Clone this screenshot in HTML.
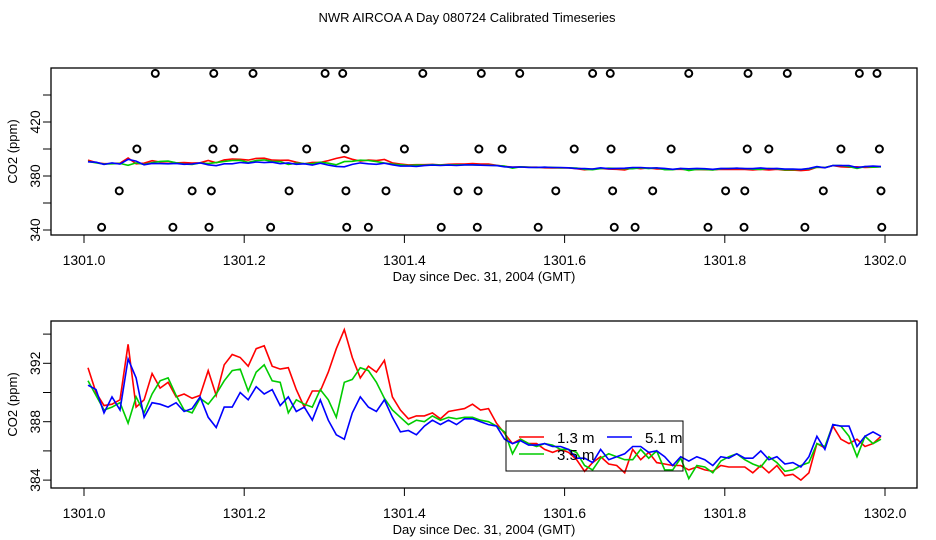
<!DOCTYPE html>
<html><head><meta charset="utf-8"><style>
body{margin:0;background:#fff;}
svg{display:block;font-family:"Liberation Sans",sans-serif;}
</style></head><body>
<svg id="chart" width="936" height="540" viewBox="0 0 936 540">
<text x="467" y="22" text-anchor="middle" font-size="13">NWR AIRCOA A  Day 080724  Calibrated Timeseries</text>
</svg>
<script>
const redVals=[391.7,390.0,389.1,389.2,389.5,393.3,389.0,389.5,391.3,390.3,390.7,389.7,389.9,389.6,389.8,391.5,389.8,391.9,392.6,392.4,391.8,393.0,393.2,391.8,391.6,391.7,390.2,389.0,390.1,390.1,391.4,393.0,394.3,392.4,391.0,391.8,391.4,392.2,389.7,388.8,388.2,388.4,
388.4,388.6,388.2,388.7,388.8,388.9,389.2,388.8,388.9,387.9,387.2,386.5,386.8,386.5,386.5,386.1,385.9,386.1,385.9,385.4,384.6,385.2,385.6,385.1,385.0,384.5,386.1,385.4,385.9,385.2,385.1,385.0,385.0,384.7,384.9,384.7,384.6,385.0,384.9,384.9,384.9,384.5,385.0,384.5,385.0,384.3,384.4,384.0,384.5,386.5,386.2,387.7,386.8,386.5,386.8,386.3,386.5,387.0];
const greenVals=[390.8,389.8,388.8,389.0,389.3,387.9,389.7,388.6,389.9,390.8,391.0,389.8,388.8,388.6,389.6,389.2,389.9,390.8,391.5,391.6,390.1,391.4,391.9,390.8,390.7,388.6,389.5,389.2,389.0,390.2,389.5,388.3,390.7,390.9,391.7,391.5,390.7,389.6,388.8,388.3,387.8,388.1,
388.0,388.4,388.1,388.3,388.2,388.3,388.3,388.1,388.0,387.7,387.3,385.8,386.8,386.5,386.3,386.5,386.4,386.1,386.1,385.9,385.0,384.7,385.5,385.8,385.6,385.4,385.4,386.1,385.5,386.0,384.7,384.7,385.5,384.1,385.0,384.9,384.5,385.3,385.6,385.8,385.4,385.1,384.9,385.6,385.2,384.6,384.7,385.0,385.2,386.5,386.3,387.8,387.7,387.0,385.6,387.0,386.5,386.8];
const blueVals=[390.5,390.2,388.6,389.7,388.8,392.3,391.0,388.3,389.3,389.2,389.0,389.3,388.7,388.9,389.7,388.3,387.6,389.0,389.0,390.0,389.5,390.4,389.9,390.2,389.1,389.7,388.7,389.0,388.1,389.5,388.1,387.1,386.8,388.6,389.7,389.0,388.7,389.5,388.3,387.3,387.4,387.1,
387.7,388.1,387.8,388.1,387.8,388.2,388.2,388.0,387.8,387.7,386.8,386.5,386.7,386.4,386.4,386.5,386.3,386.3,386.1,385.5,385.5,385.2,386.1,385.4,385.6,385.8,386.3,386.3,385.9,386.0,385.6,385.0,385.6,385.3,385.6,385.4,385.0,385.6,385.5,385.8,385.5,385.5,386.0,385.4,385.6,385.1,385.2,384.9,385.6,387.0,386.1,387.8,387.7,387.7,386.3,387.0,387.3,387.0];
const dayStart=1301.0, dayStep=0.01;
const circ456=[0.089,0.162,0.211,0.301,0.323,0.423,0.496,0.544,0.635,0.657,0.755,0.829,0.878,0.968,0.990];
const circ400=[0.066,0.161,0.187,0.278,0.326,0.400,0.493,0.522,0.612,0.658,0.733,0.828,0.855,0.945,0.993];
const circ369=[0.044,0.135,0.159,0.256,0.327,0.377,0.467,0.492,0.589,0.660,0.710,0.801,0.825,0.923,0.995];
const circ342=[0.022,0.111,0.156,0.233,0.328,0.355,0.446,0.491,0.567,0.662,0.688,0.779,0.824,0.900,0.996];
const circleLevels=[456,400,369,342];
const xTicks=[1301.0,1301.2,1301.4,1301.6,1301.8,1302.0];
const topYTicks=[340,360,380,400,420,440];
const topYLabels=[340,380,420];
const botYTicks=[384,386,388,390,392,394];
const botYLabels=[384,388,392];

const NS="http://www.w3.org/2000/svg";
const svg=document.getElementById('chart');
function mk(tag,attrs,parent){const e=document.createElementNS(NS,tag);for(const k in attrs)e.setAttribute(k,attrs[k]);(parent||svg).appendChild(e);return e;}
const xS=d=>84+(d-1301)*801;
const yTop=v=>230-(v-340)*1.35;
const yBot=v=>421.7-(v-388)*14.6;

function panel(name,top,bottom,yS,yTicks,yLabels){
  const g=mk('g',{});
  
  
  const box=mk('rect',{x:51,y:top,width:866,height:bottom-top,fill:'none',stroke:'#000','stroke-width':1.3},g);
  
  
  xTicks.forEach(t=>{
    mk('line',{x1:xS(t),x2:xS(t),y1:bottom,y2:bottom+8,stroke:'#000'},g);
    const tx=mk('text',{x:xS(t),y:bottom+30,'text-anchor':'middle','font-size':14},g);
    tx.textContent=t.toFixed(1);
    
    
  });
  const xt=mk('text',{x:484,y:bottom+46,'text-anchor':'middle','font-size':13},g);
  xt.textContent='Day since Dec. 31, 2004 (GMT)';
  
  
  yTicks.forEach(t=>{mk('line',{x1:43,x2:51,y1:yS(t),y2:yS(t),stroke:'#000'},g);});
  yLabels.forEach(t=>{
    const tx=mk('text',{x:0,y:0,'text-anchor':'middle','font-size':14,transform:`translate(40,${yS(t)}) rotate(-90)`},g);
    tx.textContent=t;
    
    
  });
  const yt=mk('text',{x:0,y:0,'text-anchor':'middle','font-size':13,transform:`translate(17,${(top+bottom)/2}) rotate(-90)`},g);
  yt.textContent='CO2 (ppm)';
  
  
  [['red',redVals,'#ff0000'],['green',greenVals,'#00cc00'],['blue',blueVals,'#0000ff']].forEach(([n,vals,c])=>{
    const pts=vals.map((v,i)=>xS(dayStart+0.005+i*dayStep).toFixed(1)+','+yS(v).toFixed(1)).join(' ');
    const pl=mk('polyline',{points:pts,fill:'none',stroke:c,'stroke-width':1.6},g);
    
    
  });
  return g;
}
const g1=panel('top-panel',68,235,yTop,topYTicks,topYLabels);
[circ456,circ400,circ369,circ342].forEach((arr,ri)=>{
  arr.forEach(d=>{
    const c=mk('circle',{cx:xS(1301+d),cy:yTop(circleLevels[ri]),r:3.5,fill:'none',stroke:'#000','stroke-width':2},g1);
    
    
  });
});
const g2=panel('bottom-panel',321,488,yBot,botYTicks,botYLabels);
// legend
const lg=mk('g',{});


mk('rect',{x:506,y:421,width:177,height:50,fill:'none',stroke:'#000','stroke-width':1},lg);
[['1.3 m','#ff0000',519,437],['5.1 m','#0000ff',607,437],['3.5 m','#00cc00',519,454]].forEach(([lab,c,x,y])=>{
  const e=mk('g',{},lg);
  
  
  mk('line',{x1:x,x2:x+25,y1:y,y2:y,stroke:c,'stroke-width':1.5},e);
  const t=mk('text',{x:x+38,y:y+6,'font-size':15},e);
  t.textContent=lab;
});
</script>
</body></html>
